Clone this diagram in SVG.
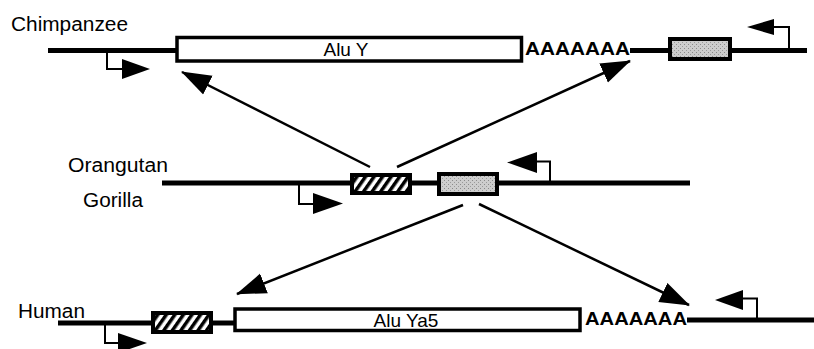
<svg xmlns="http://www.w3.org/2000/svg" width="814" height="349" viewBox="0 0 814 349">
  <style>
    .lbl { font-family: "Liberation Sans", Arial, Helvetica, sans-serif; font-size: 20px; fill: #000; }
    .alu { font-family: "Liberation Sans", Arial, Helvetica, sans-serif; font-size: 19px; fill: #000; text-anchor: middle; }
    .polya { font-family: "Liberation Sans", Arial, Helvetica, sans-serif; font-size: 19px; font-weight: bold; fill: #000; }
    .dna { stroke: #000; stroke-width: 5; fill: none; }
    .alubox { fill: #fff; stroke: #000; stroke-width: 3.5; }
    .grey { fill: url(#stipple); stroke: #000; stroke-width: 4; }
    .hatch { fill: url(#hatch); stroke: #000; stroke-width: 4; }
    .prom { stroke: #000; stroke-width: 2; fill: none; }
    .head { fill: #000; stroke: none; }
    .conn { stroke: #000; stroke-width: 2.5; fill: none; marker-end: url(#bigArrow); }
  </style>
  <defs>
    <pattern id="hatch" patternUnits="userSpaceOnUse" width="7" height="7" patternTransform="rotate(35)">
      <rect x="0" y="0" width="7" height="7" fill="#fff"/>
      <rect x="0" y="0" width="3.5" height="7" fill="#000"/>
    </pattern>
    <pattern id="stipple" patternUnits="userSpaceOnUse" width="4" height="4">
      <rect x="0" y="0" width="4" height="4" fill="#cdcdcd"/>
      <rect x="0" y="0" width="1" height="1" fill="#8a8a8a"/>
      <rect x="2" y="2" width="1" height="1" fill="#9a9a9a"/>
    </pattern>
    <marker id="bigArrow" viewBox="0 -11 30 22" markerWidth="30" markerHeight="22" refX="29" refY="0" orient="auto" markerUnits="userSpaceOnUse">
      <path d="M0,-10.5 L30,0 L0,10.5 Z" fill="#000"/>
    </marker>
  </defs>

  <rect x="0" y="0" width="814" height="349" fill="#fff"/>

  <!-- Chimpanzee -->
  <g id="chimpanzee">
    <text class="lbl" x="11" y="31" textLength="117" lengthAdjust="spacingAndGlyphs">Chimpanzee</text>
    <line class="dna" x1="48" y1="50.5" x2="178" y2="50.5"/>
    <line class="dna" x1="630" y1="50.5" x2="807" y2="50.5"/>
    <g id="chimp-promoter-fwd">
      <polyline class="prom" points="107,53 107,69 123,69"/>
      <polygon class="head" points="122,59 150,69 122,79"/>
    </g>
    <g id="chimp-alu-y">
      <rect class="alubox" x="177" y="37.5" width="344.5" height="23.5"/>
      <text class="alu" x="346" y="56">Alu Y</text>
    </g>
    <text class="polya" x="525" y="55" textLength="105" lengthAdjust="spacingAndGlyphs">AAAAAAA</text>
    <g id="chimp-grey-box">
      <rect class="grey" x="670" y="39" width="60" height="20"/>
    </g>
    <g id="chimp-promoter-rev">
      <polyline class="prom" points="789,50 789,27 772,27"/>
      <polygon class="head" points="747,27 774,19 774,35"/>
    </g>
  </g>

  <!-- Orangutan / Gorilla -->
  <g id="orangutan-gorilla">
    <text class="lbl" x="68" y="172" textLength="100" lengthAdjust="spacingAndGlyphs">Orangutan</text>
    <text class="lbl" x="83" y="207" textLength="60" lengthAdjust="spacingAndGlyphs">Gorilla</text>
    <line class="dna" x1="162" y1="183" x2="690" y2="183"/>
    <g id="og-promoter-fwd">
      <polyline class="prom" points="299,185 299,204 314,204"/>
      <polygon class="head" points="313,193 343,203.5 313,214"/>
    </g>
    <g id="og-hatched-box">
      <rect class="hatch" x="352" y="175" width="58" height="18"/>
    </g>
    <g id="og-grey-box">
      <rect class="grey" x="439" y="174" width="58" height="20"/>
    </g>
    <g id="og-promoter-rev">
      <polyline class="prom" points="550,183 550,161.5 536,161.5"/>
      <polygon class="head" points="507,162.5 537,152 537,173"/>
    </g>
  </g>

  <!-- Human -->
  <g id="human">
    <text class="lbl" x="18" y="318" textLength="67" lengthAdjust="spacingAndGlyphs">Human</text>
    <line class="dna" x1="58" y1="323" x2="153" y2="323"/>
    <line class="dna" x1="211" y1="323" x2="236" y2="323"/>
    <line class="dna" x1="687" y1="320" x2="814" y2="320"/>
    <g id="human-promoter-fwd">
      <polyline class="prom" points="105,325 105,343 119,343"/>
      <polygon class="head" points="118,333 147,343 118,353"/>
    </g>
    <g id="human-hatched-box">
      <rect class="hatch" x="153" y="313" width="58" height="19"/>
    </g>
    <g id="human-alu-ya5">
      <rect class="alubox" x="235" y="309" width="345" height="21.5"/>
      <text class="alu" x="406" y="327">Alu Ya5</text>
    </g>
    <text class="polya" x="585" y="325" textLength="102" lengthAdjust="spacingAndGlyphs">AAAAAAA</text>
    <g id="human-promoter-rev">
      <polyline class="prom" points="757,320 757,298.5 742,298.5"/>
      <polygon class="head" points="715,300 743,290 743,310"/>
    </g>
  </g>

  <!-- Connectors -->
  <g id="connectors">
    <line class="conn" x1="370" y1="167" x2="182" y2="72"/>
    <line class="conn" x1="397" y1="167" x2="630" y2="61"/>
    <line class="conn" x1="463" y1="205" x2="237" y2="294"/>
    <line class="conn" x1="479" y1="204" x2="689" y2="305"/>
  </g>
</svg>
